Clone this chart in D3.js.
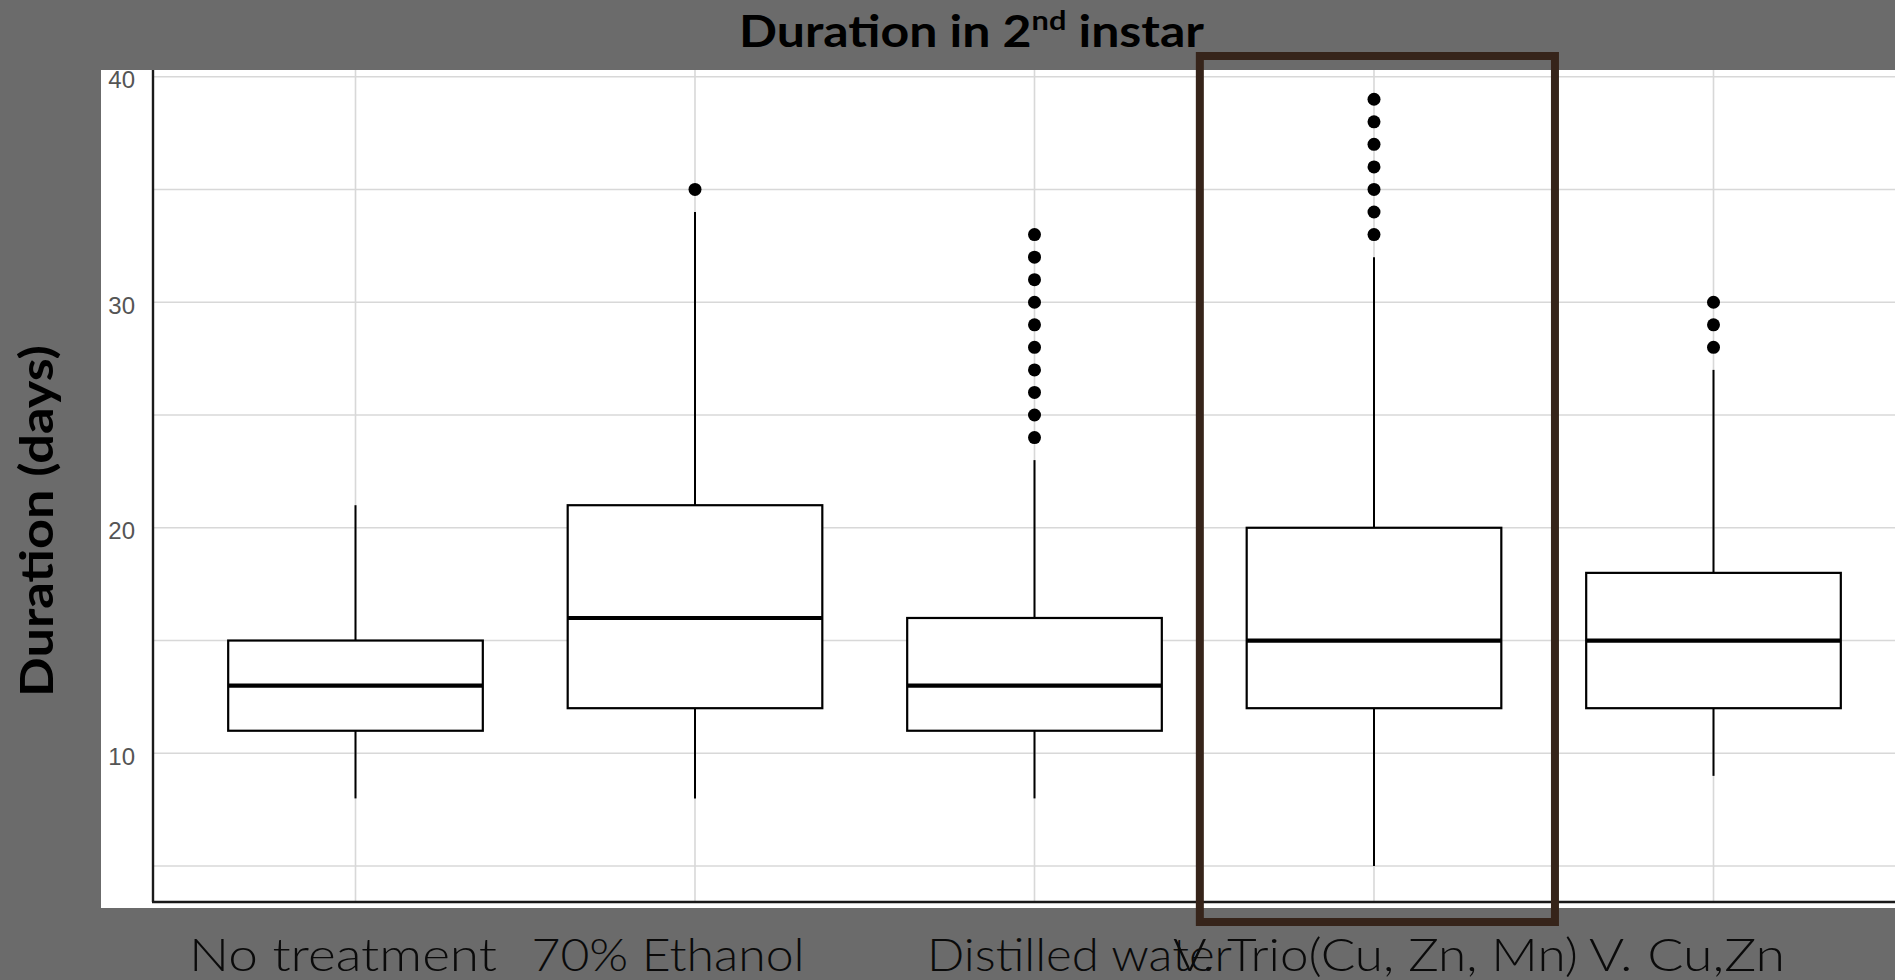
<!DOCTYPE html>
<html>
<head>
<meta charset="utf-8">
<script src="https://cdn.jsdelivr.net/npm/d3@7"></script>
<style>
  html, body { margin: 0; padding: 0; background: #6b6b6b; overflow: hidden; }
  svg { display: block; }
</style>
</head>
<body>
<svg id="chart" width="1895" height="980"></svg>
<script>
// box plot data, one entry per treatment
var categories = ["No treatment", "70% Ethanol", "Distilled water", "V. Trio(Cu, Zn, Mn)", "V. Cu,Zn"];
var lowWhisker = [8, 8, 8, 5, 9];
var q1 = [11, 12, 11, 12, 12];
var medians = [13, 16, 13, 15, 15];
var q3 = [15, 21, 16, 20, 18];
var highWhisker = [21, 34, 23, 32, 27];
var outliers = [
	[],
	[35],
	[24, 25, 26, 27, 28, 29, 30, 31, 32, 33],
	[33, 34, 35, 36, 37, 38, 39],
	[28, 29, 30]
];
var yTicks = [10, 20, 30, 40];
var yMinorTicks = [5, 15, 25, 35];
var highlighted = "V. Trio(Cu, Zn, Mn)";

// layout (slide text boxes are not centred on the ticks)
var labelShift = [-12.5, -27, 45, 1.5, -26.5];
var labelWidth = [308, 273, 305, 405, 196];

var svg = d3.select("#chart");
var panel = {left: 101, top: 70, right: 1895, bottom: 908};
var axisX = 153, axisY = 902;

var x = d3.scalePoint().domain(categories).range([355.5, 1713.5]);
var y = d3.scaleLinear().domain([10, 40]).range([753.3, 76.7]);
var boxWidth = x.step() * 0.75;

var boxes = categories.map(function(c, i) {
	return {cat: c, low: lowWhisker[i], q1: q1[i], med: medians[i], q3: q3[i], high: highWhisker[i], out: outliers[i]};
});

// white plot panel
svg.append("rect")
	.attr("x", panel.left).attr("y", panel.top)
	.attr("width", panel.right - panel.left).attr("height", panel.bottom - panel.top)
	.style("fill", "white");

// grid
var grid = svg.append("g").attr("class", "grid");
grid.selectAll(".hgrid")
	.data(yTicks.concat(yMinorTicks))
	.enter().append("line")
	.attr("x1", axisX).attr("x2", panel.right)
	.attr("y1", function(d) { return y(d); })
	.attr("y2", function(d) { return y(d); })
	.style("stroke", "#d8d8d8").style("stroke-width", 1.6);
grid.selectAll(".vgrid")
	.data(categories)
	.enter().append("line")
	.attr("x1", function(d) { return x(d); })
	.attr("x2", function(d) { return x(d); })
	.attr("y1", panel.top).attr("y2", axisY)
	.style("stroke", "#d8d8d8").style("stroke-width", 1.6);

// y axis labels
var yAxis = d3.axisLeft(y).tickValues(yTicks).tickSize(0).tickPadding(18);
var yg = svg.append("g").attr("transform", "translate(" + axisX + ",0)").call(yAxis);
yg.select(".domain").remove();
yg.selectAll("text")
	.attr("dy", "0.45em")
	.style("font-family", "'Liberation Sans', Arial, sans-serif")
	.style("font-size", "24px")
	.style("fill", "#555");

// boxes
var g = svg.selectAll(".box")
	.data(boxes)
	.enter().append("g")
	.attr("class", "box");

g.append("line") // upper whisker
	.attr("x1", function(d) { return x(d.cat); })
	.attr("x2", function(d) { return x(d.cat); })
	.attr("y1", function(d) { return y(d.q3); })
	.attr("y2", function(d) { return y(d.high); })
	.style("stroke", "black").style("stroke-width", 2);

g.append("line") // lower whisker
	.attr("x1", function(d) { return x(d.cat); })
	.attr("x2", function(d) { return x(d.cat); })
	.attr("y1", function(d) { return y(d.q1); })
	.attr("y2", function(d) { return y(d.low); })
	.style("stroke", "black").style("stroke-width", 2);

g.append("rect")
	.attr("x", function(d) { return x(d.cat) - boxWidth / 2; })
	.attr("y", function(d) { return y(d.q3); })
	.attr("width", boxWidth)
	.attr("height", function(d) { return y(d.q1) - y(d.q3); })
	.style("fill", "white")
	.style("stroke", "black").style("stroke-width", 2.2);

g.append("line") // median
	.attr("x1", function(d) { return x(d.cat) - boxWidth / 2; })
	.attr("x2", function(d) { return x(d.cat) + boxWidth / 2; })
	.attr("y1", function(d) { return y(d.med); })
	.attr("y2", function(d) { return y(d.med); })
	.style("stroke", "black").style("stroke-width", 4.2);

g.selectAll(".outlier")
	.data(function(d) { return d.out.map(function(v) { return {cat: d.cat, v: v}; }); })
	.enter().append("circle")
	.attr("class", "outlier")
	.attr("cx", function(d) { return x(d.cat); })
	.attr("cy", function(d) { return y(d.v); })
	.attr("r", 6.5)
	.style("fill", "black");

// axis lines
svg.append("line")
	.attr("x1", axisX).attr("x2", axisX).attr("y1", panel.top).attr("y2", axisY)
	.style("stroke", "#1a1a1a").style("stroke-width", 2.4);
svg.append("line")
	.attr("x1", axisX - 1).attr("x2", panel.right).attr("y1", axisY).attr("y2", axisY)
	.style("stroke", "#1a1a1a").style("stroke-width", 2.4);

// category labels (slide text, overlapping as on the slide)
svg.selectAll(".catlabel")
	.data(categories)
	.enter().append("text")
	.attr("class", "catlabel")
	.attr("x", function(d, i) { return x(d) + labelShift[i] - labelWidth[i] / 2; })
	.attr("y", 971)
	.attr("textLength", function(d, i) { return labelWidth[i]; })
	.attr("lengthAdjust", "spacingAndGlyphs")
	.style("font-family", "Lato, 'Open Sans', sans-serif")
	.style("font-weight", 300)
	.style("font-size", "46px")
	.style("fill", "#0a0a0a")
	.text(function(d) { return d; });

// highlight frame around one treatment
var hi = categories.indexOf(highlighted);
svg.append("rect")
	.attr("x", x(categories[hi]) - x.step() * 0.513)
	.attr("y", 56)
	.attr("width", x.step() * 1.046)
	.attr("height", 866)
	.style("fill", "none")
	.style("stroke", "#36241a")
	.style("stroke-width", 8);

// title
var title = svg.append("text")
	.attr("x", 739).attr("y", 47)
	.attr("textLength", 465)
	.attr("lengthAdjust", "spacingAndGlyphs")
	.style("font-family", "Lato, 'Open Sans', sans-serif")
	.style("font-weight", 700)
	.style("font-size", "44px")
	.style("fill", "black");
title.append("tspan").text("Duration in 2");
title.append("tspan").attr("dy", -17).style("font-size", "27px").text("nd");
title.append("tspan").attr("dy", 17).text(" instar");

// y axis title
svg.append("text")
	.attr("transform", "translate(53,521) rotate(-90)")
	.attr("text-anchor", "middle")
	.attr("textLength", 352)
	.attr("lengthAdjust", "spacingAndGlyphs")
	.style("font-family", "Lato, 'Open Sans', sans-serif")
	.style("font-weight", 700)
	.style("font-size", "46px")
	.style("fill", "black")
	.text("Duration (days)");
</script>
</body>
</html>
